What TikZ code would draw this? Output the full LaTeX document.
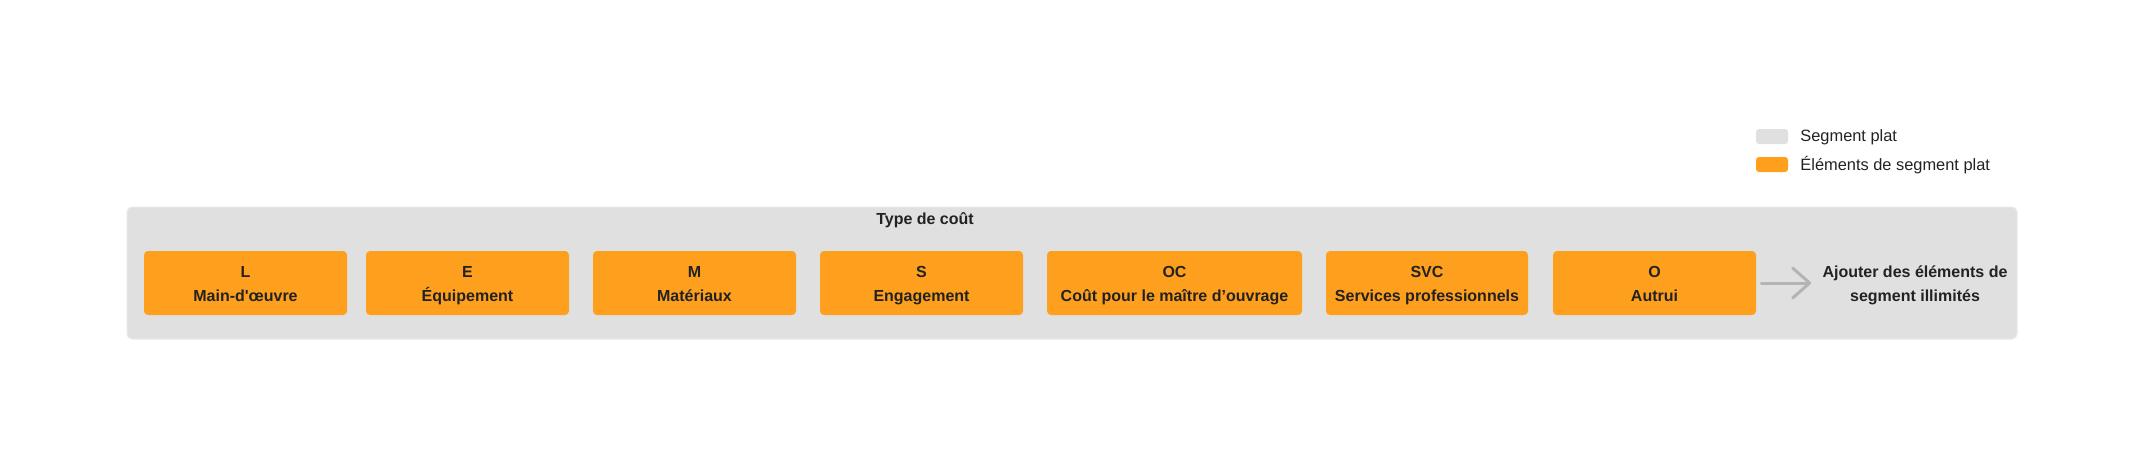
\documentclass[tikz,border=0pt]{standalone}
\usepackage{fontspec}
\setmainfont{Liberation Sans}[Ligatures=TeXOff]
\usetikzlibrary{arrows.meta}
\definecolor{segorange}{HTML}{FE9F1D}
\definecolor{seggray}{HTML}{E0E0E0}
\definecolor{segedge}{HTML}{E9E9E9}
\definecolor{segtext}{HTML}{222222}
\definecolor{arrowgray}{HTML}{B4B4B4}
\newcommand\cellstrut{\rule[-2.6pt]{0pt}{12pt}}
\begin{document}
\begin{tikzpicture}[x=0.5pt,y=-0.5pt,
    every node/.style={text=segtext},
    cell/.style={fill=segorange, rounded corners=2pt, inner sep=0pt,
      minimum height=32pt, align=center,
      font=\bfseries\fontsize{8}{12}\selectfont},
    swatch/.style={rounded corners=1.5pt},
    legendtext/.style={anchor=west, inner sep=0pt, font=\fontsize{8.2}{10}\selectfont},
    addarrow/.style={draw=arrowgray, line width=1.5pt, line cap=round,
      -{Straight Barb[length=8.5pt, width=15pt, line width=1.5pt, round]}}]
        \useasboundingbox (0,0) rectangle (2146,468);

        % Draw the flat segment
        \filldraw[fill=seggray, draw=segedge, line width=0.5pt, rounded corners=2.5pt]
            (127,207) rectangle (2017,339);
        \node[font=\bfseries\fontsize{8}{10}\selectfont] (title) at (925,220) {Type de coût};

        % Add the segment elements
        \node[cell, minimum width=101.5pt] (L) at (245.5,283) {\cellstrut L\\\cellstrut Main-d'œuvre};
        \node[cell, minimum width=101.5pt] (E) at (467.5,283) {\cellstrut E\\\cellstrut Équipement};
        \node[cell, minimum width=101.5pt] (M) at (694.5,283) {\cellstrut M\\\cellstrut Matériaux};
        \node[cell, minimum width=101.5pt] (S) at (921.5,283) {\cellstrut S\\\cellstrut Engagement};
        \node[cell, minimum width=127.5pt] (OC) at (1174.5,283) {\cellstrut OC\\\cellstrut Coût pour le maître d’ouvrage};
        \node[cell, minimum width=101pt] (SVC) at (1427,283) {\cellstrut SVC\\\cellstrut Services professionnels};
        \node[cell, minimum width=101.5pt] (O) at (1654.5,283) {\cellstrut O\\\cellstrut Autrui};

        \node[align=center, inner sep=0pt, font=\bfseries\fontsize{8}{12}\selectfont]
            (add) at (1915,283) {\cellstrut Ajouter des éléments de\\\cellstrut segment illimités};
        \draw[addarrow, shorten <=2.5pt, shorten >=5.5pt] (O.east) -- (add.west |- O.east);

        % Legend
        \fill[seggray, swatch] (1756,129) rectangle (1788,144);
        \fill[segorange, swatch] (1756,157) rectangle (1788,172);
        \node[legendtext] (plat) at (1800,137) {Segment plat};
        \node[legendtext] (elem) at (1800,165) {Éléments de segment plat};

\end{tikzpicture}
\end{document}
